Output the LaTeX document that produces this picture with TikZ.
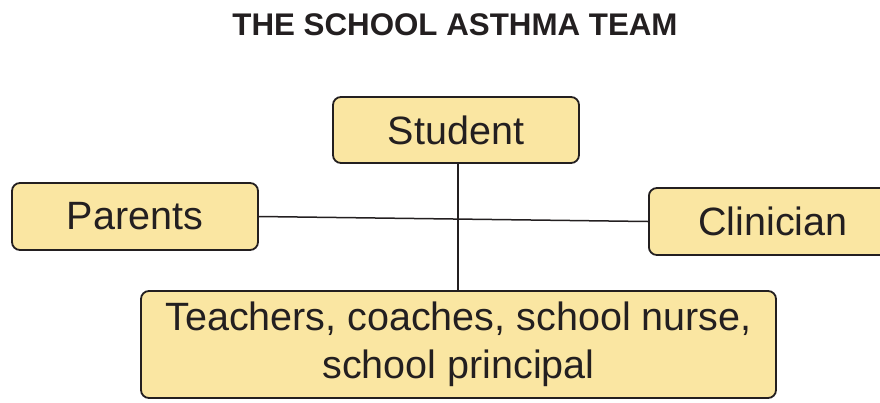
\documentclass[tikz,border=0pt]{standalone}
\usepackage{fontspec}
\setmainfont{Liberation Sans}
\definecolor{boxfill}{HTML}{FAE6A2}
\definecolor{ink}{HTML}{231F20}
\begin{document}
\begin{tikzpicture}[x=1pt,y=-1pt,
  member/.style={draw=ink, line width=1.8pt, fill=boxfill, rounded corners=8pt,
    text=ink, font=\fontsize{39.5}{48}\selectfont, inner sep=0pt, align=center},
  link/.style={draw=ink, line width=1.5pt}]
\useasboundingbox (0,0) rectangle (880,402);
\node[font=\bfseries\fontsize{31.3}{36}\selectfont, text=ink] (title) at (455,25) {THE SCHOOL ASTHMA TEAM};
\node[member, minimum width=246pt, minimum height=66pt] (student) at (456,130) {Student};
\node[member, minimum width=246pt, minimum height=67pt] (parents) at (135,216.5) {Parents};
\node[member, minimum width=248pt, minimum height=67pt, anchor=west] (clinician) at (648,221.5) {Clinician};
\node[member, minimum width=635pt, minimum height=107pt] (staff) at (458.5,344.5) {Teachers, coaches, school nurse,\\school principal};
\draw[link] (parents.east) -- (clinician.west);
\draw[link] (student.south -| 458,0) -- (staff.north -| 458,0);
\end{tikzpicture}
\end{document}
